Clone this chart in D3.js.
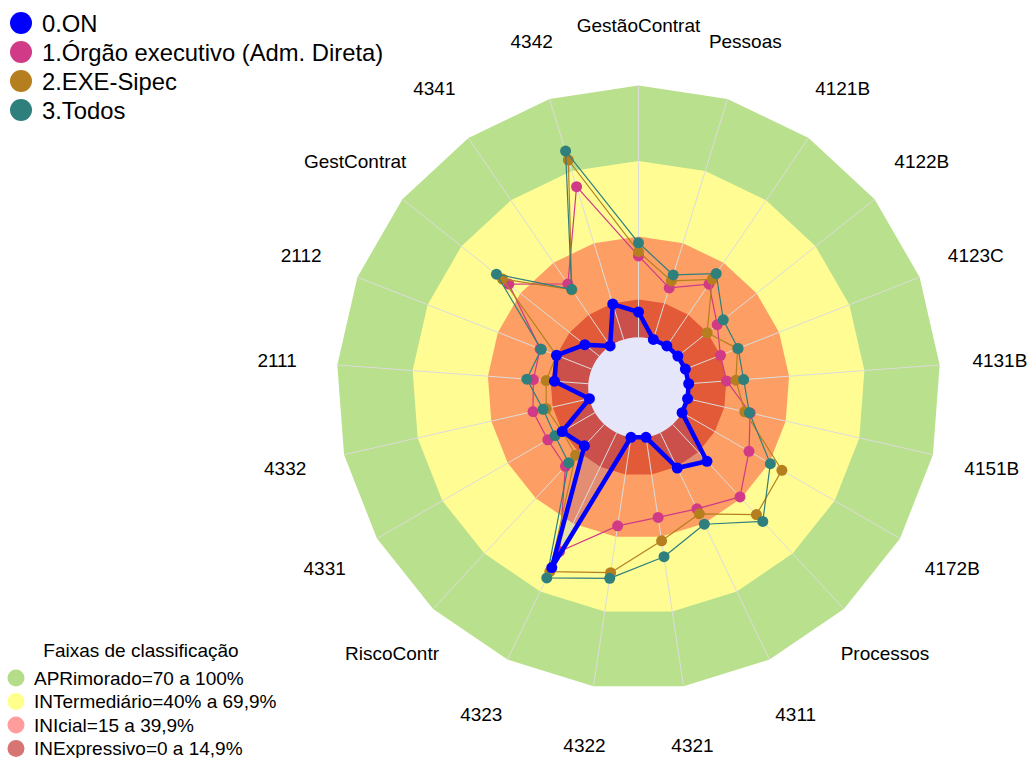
<!DOCTYPE html>
<html lang="pt">
<head>
    <meta charset="UTF-8">
    <title>Radar - Faixas de classificação</title>
    <script src="https://cdn.jsdelivr.net/npm/d3@7"></script>
    <style>
        html, body {
            margin: 0;
            background: #fff;
        }
        svg text {
            font-family: "Liberation Sans", Arial, sans-serif;
            fill: #000;
        }
    </style>
</head>
<body>
<div id="chart"></div>
<script>
    // axes, clockwise from the top
    const axes = ["GestãoContrat", "Pessoas", "4121B", "4122B", "4123C", "4131B", "4151B",
        "4172B", "Processos", "4311", "4321", "4322", "4323", "RiscoContr", "4331", "4332",
        "2111", "2112", "GestContrat", "4341", "4342"];

    // values in %
    const onValues      = [10, 0, 0, 0, 0, 0, 0, 0, 20, 15.5, 0, 0, 59.4, 11.6, 15, 0, 13.5, 15, 7.3, 0, 14.7];
    const orgaoValues   = [32.3, 21.4, 29.7, 20, 15, 15.1, 25.5, 30.7, 39.3, 33.5, 32.2, 35.6, 52.3, 22.7, 21.6, 23, 21.9, 22, 45.9, 29.8, 63.5];
    const sipecValues   = [34, 24.3, 32, 14.9, 22.3, 18.8, 23.3, 45.8, 48.9, 35.7, 41.6, 54.4, 61.2, 16.7, 15, 17.6, 16.8, 15, 49.1, 27, 74.6];
    const todosValues   = [37.5, 26.8, 34.8, 23.1, 22.5, 21.9, 25.2, 40.5, 52.6, 40.3, 48, 56.7, 64, 20.8, 18.3, 18.9, 24.5, 21.5, 52.2, 27.2, 78.3];

    const seriesNames = ["0.ON", "1.Órgão executivo (Adm. Direta)", "2.EXE-Sipec", "3.Todos"];
    const seriesColors = ["#0000FF", "#D03A87", "#B57F1F", "#2F7F7D"];

    // classification bands (outer limit of each band)
    const bandNames = ["APRimorado=70 a 100%", "INTermediário=40% a 69,9%", "INIcial=15 a 39,9%", "INExpressivo=0 a 14,9%"];
    const bandLimits = [100, 70, 40, 15];
    const bandFill = ["#B9E08D", "#FFFC94", "#FD9F64", "#E25A37"];
    const bandLegendFill = ["#B5DD89", "#FFFF8C", "#FF9C9C", "#D77474"];

    const width = 1031;
    const height = 758;
    const cx = 638.5, cy = 387.5, R = 302;

    const svg = d3.select("#chart").append("svg")
        .attr("width", width)
        .attr("height", height);

    // value 0 sits on the inner hole (fmsb style, 5 segments)
    const r = d3.scaleLinear().domain([0, 100]).range([R / 6, R]);
    const angle = d3.scaleLinear().domain([0, axes.length]).range([0, 2 * Math.PI]);

    const radial = d3.lineRadial()
        .angle((d, i) => angle(i))
        .radius(d => r(d))
        .curve(d3.curveLinearClosed);

    const g = svg.append("g").attr("transform", `translate(${cx},${cy})`);

    // bands, outer first
    bandLimits.forEach((lim, i) => {
        g.append("path")
            .attr("d", radial(axes.map(() => lim)))
            .attr("fill", bandFill[i]);
    });

    // fill of the 0.ON polygon
    g.append("path")
        .attr("d", radial(onValues))
        .attr("fill", "rgba(0,0,255,0.1)");

    // hole in the middle
    g.append("circle")
        .attr("r", r(0))
        .attr("fill", "#E6E6FA");

    // spokes
    g.selectAll("line.spoke")
        .data(axes)
        .join("line")
        .attr("class", "spoke")
        .attr("x1", (d, i) => r(0) * Math.sin(angle(i)))
        .attr("y1", (d, i) => -r(0) * Math.cos(angle(i)))
        .attr("x2", (d, i) => r(100) * Math.sin(angle(i)))
        .attr("y2", (d, i) => -r(100) * Math.cos(angle(i)))
        .attr("stroke", "#DCDCDC")
        .attr("stroke-width", 1);

    // axis labels at 1.2 x outer radius
    g.selectAll("text.axis")
        .data(axes)
        .join("text")
        .attr("class", "axis")
        .attr("x", (d, i) => 1.2 * R * Math.sin(angle(i)))
        .attr("y", (d, i) => -1.2 * R * Math.cos(angle(i)))
        .attr("text-anchor", "middle")
        .attr("dominant-baseline", "central")
        .style("font-size", "19px")
        .text(d => d);

    // series: draw the others first, 0.ON on top
    const allSeries = [onValues, orgaoValues, sipecValues, todosValues];
    const drawOrder = [1, 2, 3, 0];
    drawOrder.forEach(s => {
        const vals = allSeries[s];
        const sg = g.append("g");
        sg.append("path")
            .attr("d", radial(vals))
            .attr("fill", "none")
            .attr("stroke", seriesColors[s])
            .attr("stroke-width", s === 0 ? 4.5 : 1.2)
            .attr("stroke-linejoin", "round");
        sg.selectAll("circle")
            .data(vals)
            .join("circle")
            .attr("cx", (d, i) => r(d) * Math.sin(angle(i)))
            .attr("cy", (d, i) => -r(d) * Math.cos(angle(i)))
            .attr("r", 5.5)
            .attr("fill", seriesColors[s]);
    });

    // series legend, top left
    const leg = svg.append("g");
    leg.selectAll("circle")
        .data(seriesNames)
        .join("circle")
        .attr("cx", 21)
        .attr("cy", (d, i) => 23 + i * 29)
        .attr("r", 11)
        .attr("fill", (d, i) => seriesColors[i]);
    leg.selectAll("text")
        .data(seriesNames)
        .join("text")
        .attr("x", 42)
        .attr("y", (d, i) => 23 + i * 29)
        .attr("dominant-baseline", "central")
        .style("font-size", "23.8px")
        .text(d => d);

    // band legend, bottom left
    const leg2 = svg.append("g");
    leg2.append("text")
        .attr("x", 141)
        .attr("y", 650)
        .attr("text-anchor", "middle")
        .attr("dominant-baseline", "central")
        .style("font-size", "19px")
        .text("Faixas de classificação");
    leg2.selectAll("circle")
        .data(bandNames)
        .join("circle")
        .attr("cx", 16)
        .attr("cy", (d, i) => 678 + i * 23.5)
        .attr("r", 8.5)
        .attr("fill", (d, i) => bandLegendFill[i]);
    leg2.selectAll("text.item")
        .data(bandNames)
        .join("text")
        .attr("class", "item")
        .attr("x", 34)
        .attr("y", (d, i) => 678 + i * 23.5)
        .attr("dominant-baseline", "central")
        .style("font-size", "19px")
        .text(d => d);
</script>
</body>
</html>
